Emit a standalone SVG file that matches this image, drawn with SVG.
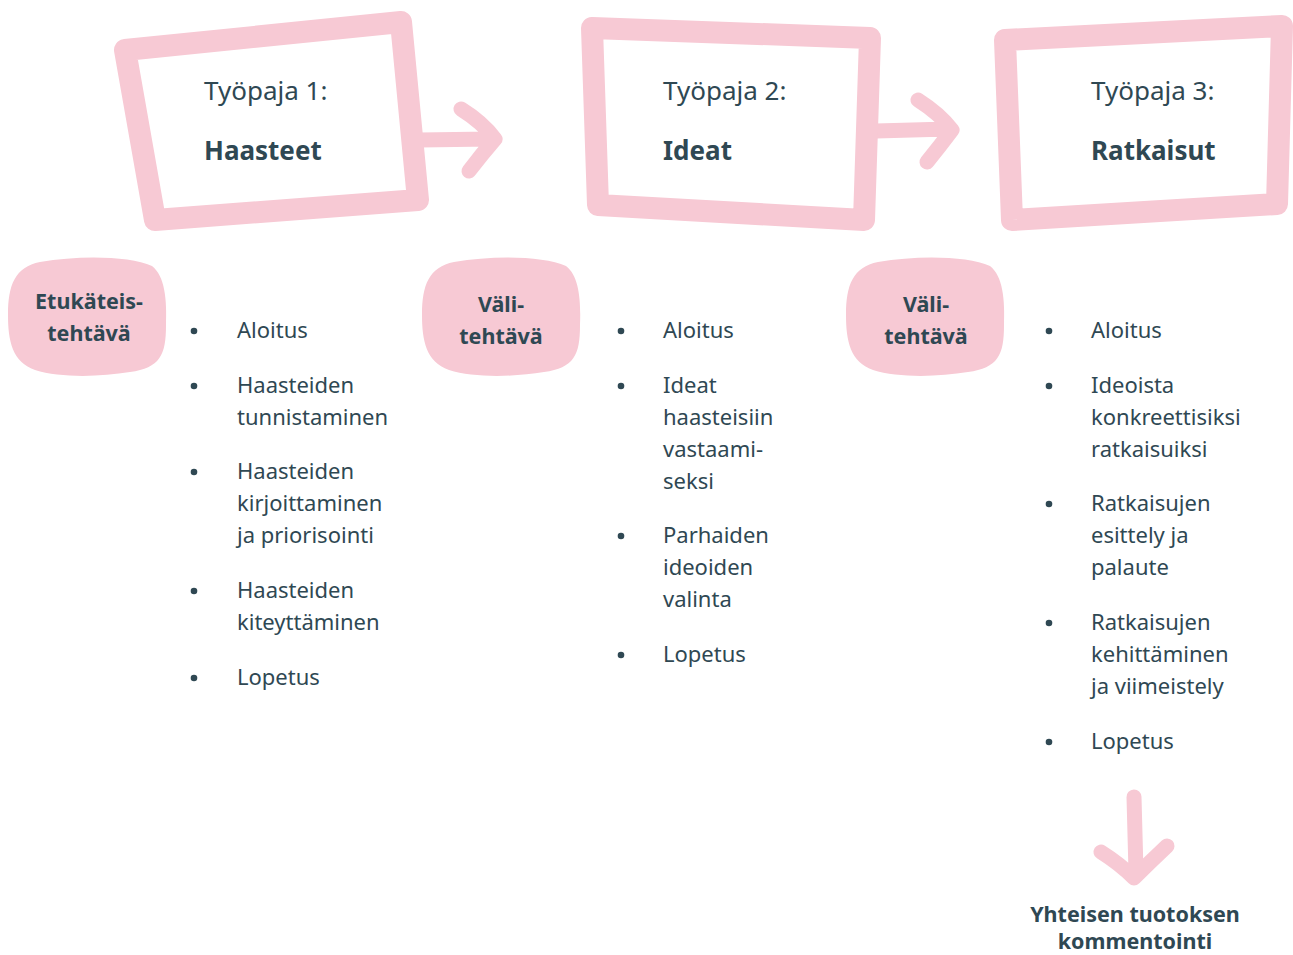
<svg xmlns="http://www.w3.org/2000/svg" width="1293" height="955" viewBox="0 0 1293 955">
<style>
.frame{fill:none;stroke:#f7c9d4;stroke-width:22;stroke-linejoin:round;stroke-linecap:round}
.arr{fill:none;stroke:#f7c9d4;stroke-width:15;stroke-linejoin:round;stroke-linecap:round}
.blob{fill:#f7c9d4}
.t{font-family:"Noto Sans","Open Sans",sans-serif;fill:#2f4853}
.h1{font-size:26px}
.h2{font-size:26px;font-weight:bold}
.b{font-size:21.5px;font-weight:bold;text-anchor:middle}
.li{font-size:22px}
.dot{fill:#2f4853}
</style>
<defs>
<path id="blobshape" d="M40,262 C80,255 130,256 152,266 C165,276 167,300 166,325 C166,355 160,368 130,372 C100,377 60,378 35,370 C12,362 8,340 8,315 C8,285 15,267 40,262 Z"/>
<circle id="bul" r="3.3"/>
</defs>
<g id="connectors">
<path class="arr" d="M420,140 L490,139 M461,109 Q482,122 495,139 Q482,154 469,171"/>
<path class="arr" d="M876,131 L948,129 M918,100 Q940,114 952,130 Q940,146 927,162"/>
<path class="arr" d="M1134,797 L1136,872 M1101,852 Q1120,864 1134,878 Q1150,862 1167,846"/>
</g>
<g id="workshop1">
<path class="frame" d="M125,50 L401,22 L418,200 L155,220 Z"/>
<text class="t h1" x="204" y="100">Työpaja 1:</text>
<text class="t h2" x="204" y="160">Haasteet</text>
</g>
<g id="workshop2">
<path class="frame" d="M592,28 L870,38 L864,220 L598,205 Z"/>
<text class="t h1" x="663" y="100">Työpaja 2:</text>
<text class="t h2" x="663" y="160">Ideat</text>
</g>
<g id="workshop3">
<path class="frame" d="M1005,40 L1282,26 L1277,204 L1012,220 Z"/>
<text class="t h1" x="1091" y="100">Työpaja 3:</text>
<text class="t h2" x="1091" y="160">Ratkaisut</text>
</g>
<g id="task-pre">
<use href="#blobshape" class="blob"/>
<text class="t b" x="89" y="309">Etukäteis-</text>
<text class="t b" x="89" y="341">tehtävä</text>
</g>
<g id="task-mid1">
<use href="#blobshape" class="blob" x="414"/>
<text class="t b" x="501" y="312">Väli-</text>
<text class="t b" x="501" y="344">tehtävä</text>
</g>
<g id="task-mid2">
<use href="#blobshape" class="blob" x="838"/>
<text class="t b" x="926" y="312">Väli-</text>
<text class="t b" x="926" y="344">tehtävä</text>
</g>
<g id="list1" class="t li">
<use href="#bul" class="dot" x="194" y="331"/>
<use href="#bul" class="dot" x="194" y="386"/>
<use href="#bul" class="dot" x="194" y="472"/>
<use href="#bul" class="dot" x="194" y="591"/>
<use href="#bul" class="dot" x="194" y="678"/>
<text x="237" y="338">Aloitus</text>
<text x="237" y="393">Haasteiden</text>
<text x="237" y="425">tunnistaminen</text>
<text x="237" y="479">Haasteiden</text>
<text x="237" y="511">kirjoittaminen</text>
<text x="237" y="543">ja priorisointi</text>
<text x="237" y="598">Haasteiden</text>
<text x="237" y="630">kiteyttäminen</text>
<text x="237" y="685">Lopetus</text>
</g>
<g id="list2" class="t li">
<use href="#bul" class="dot" x="621" y="331"/>
<use href="#bul" class="dot" x="621" y="386"/>
<use href="#bul" class="dot" x="621" y="536"/>
<use href="#bul" class="dot" x="621" y="655"/>
<text x="663" y="338">Aloitus</text>
<text x="663" y="393">Ideat</text>
<text x="663" y="425">haasteisiin</text>
<text x="663" y="457">vastaami-</text>
<text x="663" y="489">seksi</text>
<text x="663" y="543">Parhaiden</text>
<text x="663" y="575">ideoiden</text>
<text x="663" y="607">valinta</text>
<text x="663" y="662">Lopetus</text>
</g>
<g id="list3" class="t li">
<use href="#bul" class="dot" x="1049" y="331"/>
<use href="#bul" class="dot" x="1049" y="386"/>
<use href="#bul" class="dot" x="1049" y="504"/>
<use href="#bul" class="dot" x="1049" y="623"/>
<use href="#bul" class="dot" x="1049" y="742"/>
<text x="1091" y="338">Aloitus</text>
<text x="1091" y="393">Ideoista</text>
<text x="1091" y="425">konkreettisiksi</text>
<text x="1091" y="457">ratkaisuiksi</text>
<text x="1091" y="511">Ratkaisujen</text>
<text x="1091" y="543">esittely ja</text>
<text x="1091" y="575">palaute</text>
<text x="1091" y="630">Ratkaisujen</text>
<text x="1091" y="662">kehittäminen</text>
<text x="1091" y="694">ja viimeistely</text>
<text x="1091" y="749">Lopetus</text>
</g>
<g id="outcome">
<text class="t b" x="1135" y="922">Yhteisen tuotoksen</text>
<text class="t b" x="1135" y="949">kommentointi</text>
</g>
</svg>
